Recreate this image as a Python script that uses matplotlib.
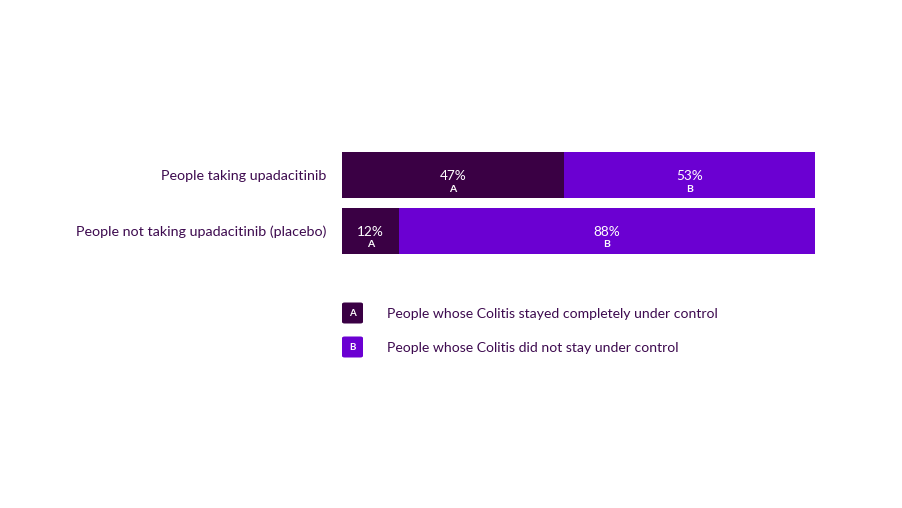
import matplotlib
matplotlib.use("Agg")
import matplotlib.pyplot as plt
from matplotlib.patches import FancyBboxPatch

categories = ["People taking upadacitinib", "People not taking upadacitinib (placebo)"]
controlled = [47, 12]
not_controlled = [53, 88]
series_letters = ["A", "B"]
legend_labels = ["People whose Colitis stayed completely under control",
                 "People whose Colitis did not stay under control"]

dark = "#3a0044"
purple = "#6b00d2"
txt = "#3d0a4f"
font = ["Lato", "DejaVu Sans"]

fig = plt.figure(figsize=(9.03, 5.08), dpi=100)
ax = fig.add_axes([342/903, 1-258.25/508, 473/903, 111/508])
ax.set_xlim(0, 100)
ax.set_ylim(1.5, -0.5)
ax.axis("off")

y = list(range(len(categories)))
h = 46/55.5
ax.barh(y, controlled, height=h, color=dark, linewidth=0)
ax.barh(y, not_controlled, left=controlled, height=h, color=purple, linewidth=0)

for i, (a, b) in enumerate(zip(controlled, not_controlled)):
    for left, val, let in [(0, a, "A"), (a, b, "B")]:
        cx = left + val/2
        ax.text(cx, i + 0.02, f"{val}%", ha="center", va="center", color="white",
                fontsize=9.8, family=font)
        ax.text(cx, i + 0.26, let, ha="center", va="center", color="white",
                fontsize=7.5, fontweight="bold", family=font)
    ax.text(-3.2, i + 0.02, categories[i], ha="right", va="center", color=txt,
            fontsize=10.3, family=font)

# legend
for k, (col, lab) in enumerate(zip([dark, purple], legend_labels)):
    yc = 313 + k*34
    fig.patches.append(FancyBboxPatch((342/903, 1-(yc+10.5)/508), 21/903, 21/508,
                                      boxstyle="round,pad=0,rounding_size=0.003",
                                      transform=fig.transFigure, facecolor=col,
                                      edgecolor="none"))
    fig.text(352.5/903, 1-yc/508, series_letters[k], ha="center", va="center",
             color="white", fontsize=7, fontweight="bold", family=font)
    fig.text(387/903, 1-(yc+1)/508, lab, ha="left", va="center", color=txt,
             fontsize=10.1, family=font)

fig.savefig("out.png", dpi=100, facecolor="white")
